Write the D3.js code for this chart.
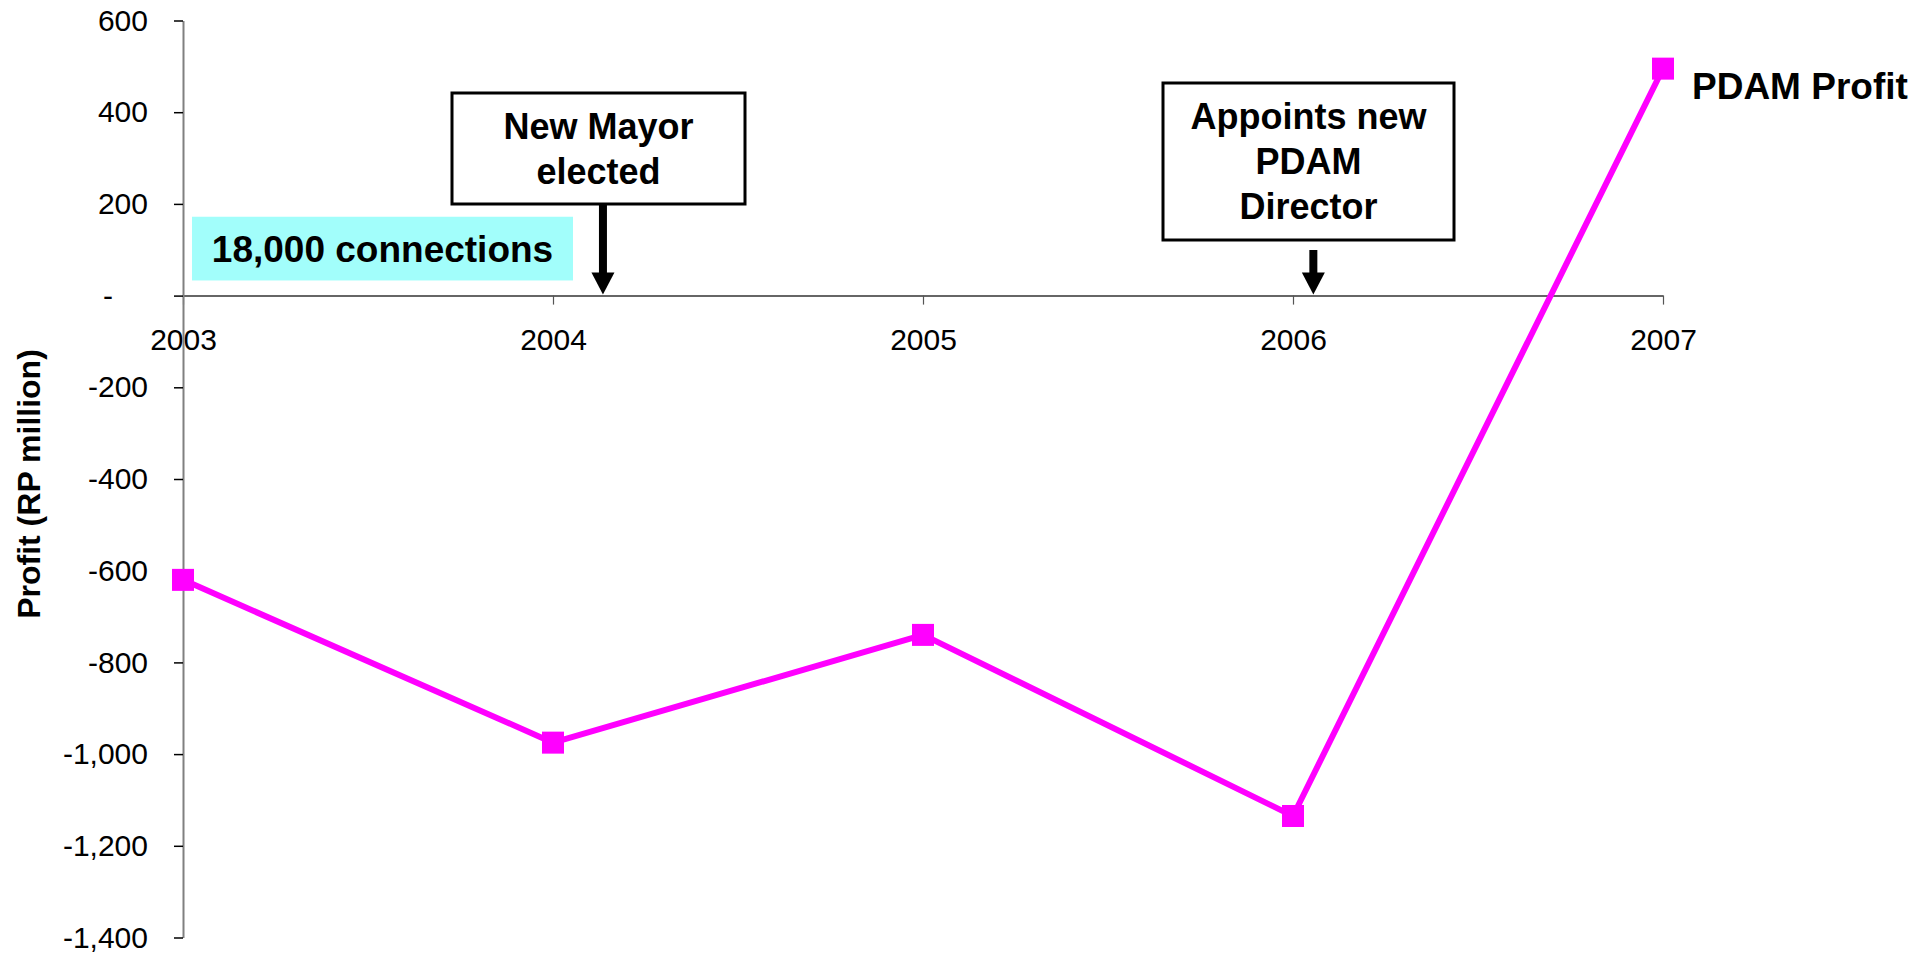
<!DOCTYPE html>
<html>
<head>
<meta charset="utf-8">
<script src="https://cdn.jsdelivr.net/npm/d3@7"></script>
<style>
  html, body { margin: 0; padding: 0; background: #fff; }
  svg { display: block; font-family: "Liberation Sans", Arial, sans-serif; }
</style>
</head>
<body>
<svg id="chart" width="1918" height="955"></svg>
<script>
// ---- data ----
const years = [2003, 2004, 2005, 2006, 2007];
const profit = [-620, -975, -740, -1135, 495];
const seriesName = "PDAM Profit";
const yTicks = [600, 400, 200, 0, -200, -400, -600, -800, -1000, -1200, -1400];
const yTickLabels = ["600", "400", "200", "-", "-200", "-400", "-600", "-800", "-1,000", "-1,200", "-1,400"];
const xTickLabels = ["2003", "2004", "2005", "2006", "2007"];
const yTitle = "Profit (RP million)";
const calloutText = "18,000 connections";
const mayorLines = ["New Mayor", "elected"];
const directorLines = ["Appoints new", "PDAM", "Director"];

// ---- layout ----
const svg = d3.select("#chart");
const x = d3.scaleLinear().domain([2003, 2007]).range([183, 1663]);
const y = d3.scaleLinear().domain([-1400, 600]).range([937.5, 20.5]);
const magenta = "#ff00ff";

// x axis (at zero)
const xAxis = svg.append("g")
  .attr("transform", `translate(0,${y(0)})`)
  .call(d3.axisBottom(x).tickValues(years).tickFormat((d, i) => xTickLabels[i])
    .tickSize(9).tickSizeOuter(0).tickPadding(24));
xAxis.select(".domain").attr("stroke", "#333").attr("stroke-width", 1.5);
xAxis.selectAll(".tick line").attr("stroke", "#555").attr("stroke-width", 1.2);
xAxis.selectAll(".tick text").attr("font-size", 30).attr("fill", "#000")
  .attr("font-family", "Liberation Sans, Arial, sans-serif");

// y axis
const yAxis = svg.append("g")
  .attr("transform", `translate(${x(2003)},0)`)
  .call(d3.axisLeft(y).tickValues(yTicks).tickFormat((d, i) => yTickLabels[i])
    .tickSize(9).tickSizeOuter(0).tickPadding(26));
yAxis.select(".domain").attr("stroke", "#808080").attr("stroke-width", 2);
yAxis.selectAll(".tick line").attr("stroke", "#000").attr("stroke-width", 1.5);
yAxis.selectAll(".tick text").attr("font-size", 30).attr("fill", "#000")
  .attr("font-family", "Liberation Sans, Arial, sans-serif")
  .attr("dx", d => d === 0 ? -35 : 0);

// y axis title
svg.append("text")
  .attr("transform", `translate(40,484) rotate(-90)`)
  .attr("text-anchor", "middle")
  .attr("font-size", 32).attr("font-weight", "bold")
  .text(yTitle);

// cyan callout
const cyanTop = 172, cyanBottom = 33;
svg.append("rect")
  .attr("x", 192).attr("width", 381)
  .attr("y", y(cyanTop)).attr("height", y(cyanBottom) - y(cyanTop))
  .attr("fill", "#a2fefb");
svg.append("text")
  .attr("x", 382.5).attr("y", 262)
  .attr("text-anchor", "middle").attr("font-size", 37).attr("font-weight", "bold")
  .text(calloutText);

// annotation boxes + arrows
function noteBox(x0, y0, w, h, lines, firstBaseline, arrowX, shaftTop) {
  svg.append("rect").attr("x", x0).attr("y", y0).attr("width", w).attr("height", h)
    .attr("fill", "#fff").attr("stroke", "#000").attr("stroke-width", 3);
  const t = svg.append("text").attr("text-anchor", "middle")
    .attr("font-size", 36).attr("font-weight", "bold");
  lines.forEach((l, i) => {
    t.append("tspan").attr("x", x0 + w / 2).attr("y", firstBaseline + i * 45).text(l);
  });
  const tipY = y(0) - 1;
  const headH = 22, headW = 23;
  svg.append("line").attr("x1", arrowX).attr("x2", arrowX)
    .attr("y1", shaftTop).attr("y2", tipY - headH + 1)
    .attr("stroke", "#000").attr("stroke-width", 8);
  svg.append("path")
    .attr("d", `M${arrowX - headW / 2},${tipY - headH} L${arrowX + headW / 2},${tipY - headH} L${arrowX},${tipY} Z`)
    .attr("fill", "#000");
}
noteBox(452, 93, 293, 111, mayorLines, 139, x(2004.135), 204);
noteBox(1163, 83, 291, 157, directorLines, 129, x(2006.055), 250);

// series line
const pts = years.map((yr, i) => [x(yr), y(profit[i])]);
svg.append("path")
  .attr("d", d3.line()(pts))
  .attr("fill", "none").attr("stroke", magenta).attr("stroke-width", 6)
  .attr("stroke-linejoin", "round");
svg.selectAll("rect.marker").data(pts).enter().append("rect")
  .attr("class", "marker")
  .attr("x", d => d[0] - 11).attr("y", d => d[1] - 11)
  .attr("width", 22).attr("height", 22)
  .attr("fill", magenta);

// series label
const last = pts[pts.length - 1];
svg.append("text")
  .attr("x", last[0] + 29).attr("y", last[1] + 30)
  .attr("font-size", 37).attr("font-weight", "bold")
  .text(seriesName);
</script>
</body>
</html>
